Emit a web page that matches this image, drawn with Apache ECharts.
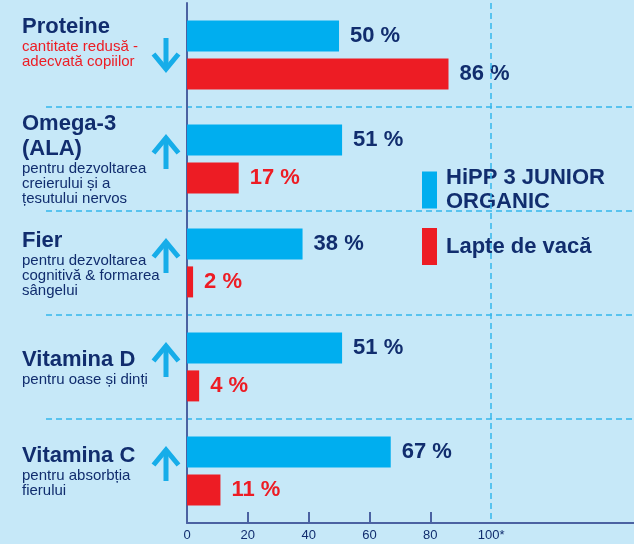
<!DOCTYPE html>
<html><head><meta charset="utf-8">
<script src="https://cdn.jsdelivr.net/npm/echarts@6/dist/echarts.min.js"></script>
<style>html,body{margin:0;padding:0;background:#c6e8f8}#c{width:634px;height:544px}</style>
</head><body><div id="c"></div>
<script>
const categories = ['Proteine', 'Omega-3\n(ALA)', 'Fier', 'Vitamina D', 'Vitamina C'];
const descriptions = [
  'cantitate redusă -\nadecvată copiilor',
  'pentru dezvoltarea\ncreierului și a\nțesutului nervos',
  'pentru dezvoltarea\ncognitivă & formarea\nsângelui',
  'pentru oase și dinți',
  'pentru absorbția\nfierului'
];
const arrows = ['down', 'up', 'up', 'up', 'up'];
const seriesNames = ['HiPP 3 JUNIOR ORGANIC', 'Lapte de vacă'];
const hippValues = [50, 51, 38, 51, 67];
const cowValues = [86, 17, 2, 4, 11];
const tickValues = [20, 40, 60, 80];
const tickLabels = [0, 20, 40, 60, 80, 100];
const referenceLine = 100;

const navy = '#112d6e';
const red = '#ed1c24';
const blue = '#00aeef';
const dash = '#35b6ec';
const axisColor = '#4b62a2';
const arrowColor = '#16ade9';

const chart = echarts.init(document.getElementById('c'), null, {renderer: 'canvas'});

function catLabel(v, i) {
  const t = categories[i].split('\n').map(s => '{t|' + s + '}').join('\n');
  const st = i === 0 ? 'r' : 's';
  const d = descriptions[i].split('\n').map(s => '{' + st + '|' + s + '}').join('\n');
  return t + '\n' + d;
}

const yData0 = categories.map((c, i) => i === 0 ? {value: c, textStyle: {align: 'left', padding: [0, 0, 26, 0]}} : c);
const cowData = cowValues.map((v, i) => i === 0 ? {value: v, label: {color: navy}} : v);
const arrowData = arrows.map((a, i) => [0, i, a === 'up' ? 1 : -1]);

function renderArrow(params, api) {
  const p = api.coord([0, api.value(1)]);
  const dir = api.value(2);
  const cx = p[0] - 21;
  const cy = p[1] - (dir > 0 ? 7 : 0);
  const tip = cy - dir * 14;
  const tail = cy + dir * 17;
  const st = {stroke: arrowColor, lineWidth: 5, fill: null};
  return {
    type: 'group',
    children: [
      {type: 'line', shape: {x1: cx, y1: tail, x2: cx, y2: tip + dir * 2}, style: st},
      {type: 'polyline', shape: {points: [[cx - 12.5, tip + dir * 15], [cx, tip], [cx + 12.5, tip + dir * 15]]}, style: Object.assign({lineJoin: 'miter'}, st)}
    ]
  };
}

chart.setOption({
  backgroundColor: '#c6e8f8',
  animation: false,
  textStyle: {fontFamily: 'Liberation Sans'},
  grid: [
    {left: 46, right: 0, top: 3, bottom: 21, outerBoundsMode: 'none', containLabel: false},
    {left: 187, right: 0, top: 3, bottom: 21, outerBoundsMode: 'none', containLabel: false}
  ],
  legend: {
    data: seriesNames,
    orient: 'vertical', left: 417, top: 161,
    itemWidth: 15, itemHeight: 37, itemGap: 14, icon: 'rect',
    selectedMode: false,
    formatter: n => n.replace('JUNIOR ', 'JUNIOR\n'),
    textStyle: {color: navy, fontSize: 22, fontWeight: 'bold', lineHeight: 24, padding: [0, 0, 0, 4]}
  },
  xAxis: [
    {gridIndex: 0, type: 'value', show: false, min: 0, max: 1},
    {
      gridIndex: 1, type: 'value', min: 0, max: 147, interval: 20,
      axisLine: {show: true, lineStyle: {color: axisColor, width: 2}},
      axisTick: {show: true, inside: true, length: 11, customValues: tickValues, lineStyle: {color: axisColor, width: 2}},
      axisLabel: {customValues: tickLabels, formatter: v => v === 100 ? '100*' : String(v), color: navy, fontSize: 13, margin: 6},
      splitLine: {show: false}
    }
  ],
  yAxis: [
    {
      gridIndex: 0, type: 'category', data: yData0, inverse: true,
      axisLine: {show: false}, axisTick: {show: false},
      splitLine: {show: true, showMinLine: false, showMaxLine: false, lineStyle: {color: dash, type: [6, 4], width: 1.5}},
      axisLabel: {
        align: 'left', margin: 24, formatter: catLabel,
        rich: {
          t: {fontSize: 22, fontWeight: 'bold', color: navy, lineHeight: 25, fontFamily: 'Liberation Sans'},
          s: {fontSize: 15, color: navy, lineHeight: 15, fontFamily: 'Liberation Sans'},
          r: {fontSize: 15, color: red, lineHeight: 15, fontFamily: 'Liberation Sans'}
        }
      }
    },
    {
      gridIndex: 1, type: 'category', data: categories, inverse: true,
      axisLine: {show: true, lineStyle: {color: axisColor, width: 2}},
      axisTick: {show: false},
      axisLabel: {show: false}
    }
  ],
  series: [
    {
      type: 'bar', name: seriesNames[0], xAxisIndex: 1, yAxisIndex: 1,
      data: hippValues, barWidth: 31, barGap: '22%',
      itemStyle: {color: blue},
      label: {show: true, position: 'right', distance: 11, formatter: '{c} %', color: navy, fontSize: 22, fontWeight: 'bold'},
      markLine: {
        silent: true, symbol: 'none', label: {show: false},
        lineStyle: {color: dash, type: [6, 4], width: 1.5},
        data: [{xAxis: referenceLine}]
      }
    },
    {
      type: 'bar', name: seriesNames[1], xAxisIndex: 1, yAxisIndex: 1,
      data: cowData, barWidth: 31, barGap: '22%',
      itemStyle: {color: red},
      label: {show: true, position: 'right', distance: 11, formatter: '{c} %', color: red, fontSize: 22, fontWeight: 'bold'}
    },
    {
      type: 'custom', xAxisIndex: 1, yAxisIndex: 1, clip: false, silent: true,
      data: arrowData, renderItem: renderArrow, z: 5
    }
  ]
});
</script>
</body></html>
